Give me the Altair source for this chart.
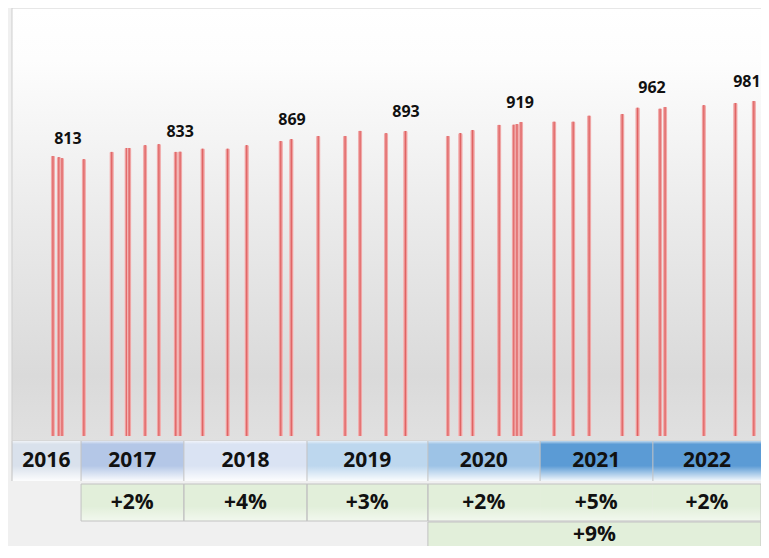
import altair as alt
import pandas as pd

# ---------------- data ----------------
bar_dates = [
    "2016-10-03", "2016-10-22", "2016-11-01",
    "2017-01-10", "2017-04-09", "2017-05-27", "2017-06-04", "2017-07-25", "2017-09-07", "2017-10-31", "2017-11-14",
    "2018-01-25", "2018-04-15", "2018-06-15", "2018-10-02", "2018-11-05",
    "2019-01-30", "2019-04-26", "2019-06-13", "2019-09-04", "2019-11-05",
    "2020-03-20", "2020-04-29", "2020-06-07", "2020-08-31", "2020-10-17", "2020-10-27", "2020-11-09",
    "2021-02-23", "2021-04-25", "2021-06-15", "2021-09-29", "2021-11-17",
    "2022-01-28", "2022-02-13", "2022-06-17", "2022-09-26", "2022-11-24",
]
bar_values = [
    820, 816, 813,
    810, 832, 843, 843, 851, 854, 832, 833,
    842, 842, 851, 864, 869,
    878, 878, 894, 886, 893,
    878, 886, 896, 911, 912, 913, 919,
    921, 921, 938, 943, 962,
    959, 963, 968, 975, 981,
]

label_dates = ["2016-11-20", "2017-11-14", "2018-11-07", "2019-11-07", "2020-11-06", "2022-01-02", "2022-11-02"]
label_values = [813, 833, 869, 893, 919, 962, 981]

years = ["2016", "2017", "2018", "2019", "2020", "2021", "2022"]
year_bounds = ["2016-05-25", "2017-01-01", "2017-11-26", "2018-12-25",
               "2020-01-16", "2021-01-09", "2022-01-05", "2022-12-17"]

pct_years = ["2017", "2018", "2019", "2020", "2021", "2022"]
pct_labels = ["+2%", "+4%", "+3%", "+2%", "+5%", "+2%"]

span_from, span_to, span_label = "2020", "2022", "+9%"

# ---------------- styles ----------------
year_colors = ["#d9e1ec", "#b4c7e7", "#dae3f3", "#bdd7ee", "#9dc3e6", "#5b9bd5", "#5b9bd5"]
green = "#e2efda"
border = "#c2c2c2"
FONT = "Open Sans"
W, H = 749, 538
PLOT_H = 433
ROW1 = (433, 473)
ROW2 = (476, 513)
ROW3 = (514, 545)

# ---------------- tables ----------------
bars = pd.DataFrame({"date": bar_dates, "value": bar_values})
labels = pd.DataFrame({"date": label_dates, "value": label_values, "text": [str(v) for v in label_values]})

ycells = pd.DataFrame({"year": years, "start": year_bounds[:-1], "end": year_bounds[1:]})
ycells["mid"] = (pd.to_datetime(ycells["start"]) + (pd.to_datetime(ycells["end"]) - pd.to_datetime(ycells["start"])) / 2).dt.strftime("%Y-%m-%d")

pcells = ycells[ycells["year"].isin(pct_years)].copy()
pcells["label"] = pct_labels

span = pd.DataFrame({
    "start": [ycells.loc[ycells["year"] == span_from, "start"].iloc[0]],
    "end": [ycells.loc[ycells["year"] == span_to, "end"].iloc[0]],
    "label": [span_label],
})
span["mid"] = (pd.to_datetime(span["start"]) + (pd.to_datetime(span["end"]) - pd.to_datetime(span["start"])) / 2).dt.strftime("%Y-%m-%d")

pct_groups = pd.concat([
    pcells[pd.to_datetime(pcells["start"]) < pd.to_datetime(span["start"].iloc[0])][["start", "end"]],
    span[["start", "end"]],
])
row_all = pd.DataFrame({"start": [year_bounds[0]], "end": [year_bounds[-1]]})
pct_all = pd.DataFrame({"start": [pcells["start"].iloc[0]], "end": [year_bounds[-1]]})
one = pd.DataFrame({"k": [0]})

# ---------------- scales ----------------
def dt(s):
    t = pd.Timestamp(s)
    return alt.DateTime(year=t.year, month=t.month, date=t.day, utc=True)

xscale = alt.Scale(type="utc", domain=[dt(year_bounds[0]), dt(year_bounds[-1])], nice=False, padding=0)
yscale = alt.Scale(domain=[0, 1252], range=[428, 0], nice=False, zero=False)

def X(f):
    return alt.X(f, scale=xscale, axis=None)

def vgrad(stops):
    return alt.LinearGradient(gradient="linear", x1=0, x2=0, y1=0, y2=1,
                              stops=[alt.GradientStop(color=c, offset=o) for o, c in stops])

# ---------------- layers ----------------
plot_bg = alt.Chart(one).mark_rect(
    fill=vgrad([(0, "#ffffff"), (0.12, "#fdfdfd"), (0.5, "#eaeaea"), (0.85, "#dadada"), (1, "#e0e0e0")]),
    stroke="#cfcfcf", strokeWidth=1,
).encode(x=alt.value(0), x2=alt.value(W + 2), y=alt.value(0), y2=alt.value(PLOT_H))

bar_grad = alt.LinearGradient(
    gradient="linear", x1=0, x2=1, y1=0, y2=0,
    stops=[alt.GradientStop(color="#f8d2d2", offset=0),
           alt.GradientStop(color="#ec9797", offset=0.3),
           alt.GradientStop(color="#df5e5e", offset=0.5),
           alt.GradientStop(color="#ec9797", offset=0.7),
           alt.GradientStop(color="#f8d2d2", offset=1)],
)
bar_layer = alt.Chart(bars).mark_bar(size=5, fill=bar_grad, cornerRadiusTopLeft=2, cornerRadiusTopRight=2).encode(
    x=X("date:T"), y=alt.Y("value:Q", scale=yscale, axis=None)
)

label_layer = alt.Chart(labels).mark_text(
    font=FONT, fontSize=16, fontWeight="bold", color="#111111", baseline="alphabetic", dy=-14
).encode(x=X("date:T"), y=alt.Y("value:Q", scale=yscale, axis=None), text="text:N")

year_rect = alt.Chart(ycells).mark_rect().encode(
    x=X("start:T"), x2="end:T", y=alt.value(ROW1[0]), y2=alt.value(ROW1[1]),
    fill=alt.Fill("year:N", scale=alt.Scale(domain=years, range=year_colors), legend=None),
)
year_over = alt.Chart(row_all).mark_rect(
    fill=vgrad([(0, "rgba(255,255,255,0.6)"), (0.08, "rgba(255,255,255,0)"),
                (0.62, "rgba(255,255,255,0)"), (1, "rgba(255,255,255,0.93)")])
).encode(x=X("start:T"), x2="end:T", y=alt.value(ROW1[0]), y2=alt.value(ROW1[1]))
year_sep = alt.Chart(ycells).mark_rule(color=border, strokeWidth=1).encode(
    x=X("start:T"), y=alt.value(ROW1[0]), y2=alt.value(ROW1[1])
)
year_text = alt.Chart(ycells).mark_text(
    font=FONT, fontSize=21, fontWeight="bold", color="#111111", baseline="middle"
).encode(x=X("mid:T"), y=alt.value((ROW1[0] + ROW1[1]) / 2), text="year:N")

pct_rect = alt.Chart(pcells).mark_rect(fill=green).encode(
    x=X("start:T"), x2="end:T", y=alt.value(ROW2[0]), y2=alt.value(ROW2[1])
)
pct_over = alt.Chart(pct_all).mark_rect(
    fill=vgrad([(0, "rgba(255,255,255,0)"), (0.6, "rgba(255,255,255,0)"), (1, "rgba(255,255,255,0.55)")])
).encode(x=X("start:T"), x2="end:T", y=alt.value(ROW2[0]), y2=alt.value(ROW2[1]))
pct_border = alt.Chart(pct_groups).mark_rect(fillOpacity=0, stroke=border, strokeWidth=1).encode(
    x=X("start:T"), x2="end:T", y=alt.value(ROW2[0]), y2=alt.value(ROW2[1])
)
pct_text = alt.Chart(pcells).mark_text(
    font=FONT, fontSize=21, fontWeight="bold", color="#111111", baseline="middle"
).encode(x=X("mid:T"), y=alt.value((ROW2[0] + ROW2[1]) / 2), text="label:N")

span_rect = alt.Chart(span).mark_rect(fill=green, stroke=border, strokeWidth=1).encode(
    x=X("start:T"), x2="end:T", y=alt.value(ROW3[0]), y2=alt.value(ROW3[1])
)
span_text = alt.Chart(span).mark_text(
    font=FONT, fontSize=21, fontWeight="bold", color="#111111", baseline="middle"
).encode(x=X("mid:T"), y=alt.value(527), text="label:N")

chart = alt.layer(
    plot_bg, bar_layer, label_layer,
    year_rect, year_over, year_sep, year_text,
    pct_rect, pct_over, pct_border, pct_text,
    span_rect, span_text,
).properties(
    width=W, height=H, background="#f0f0f0",
    padding={"left": 4, "top": 0, "right": 0, "bottom": 0},
    autosize=alt.AutoSizeParams(type="none"),
).configure_view(stroke=None)

chart.save("out.html", embed_options={"renderer": "svg", "actions": False})
